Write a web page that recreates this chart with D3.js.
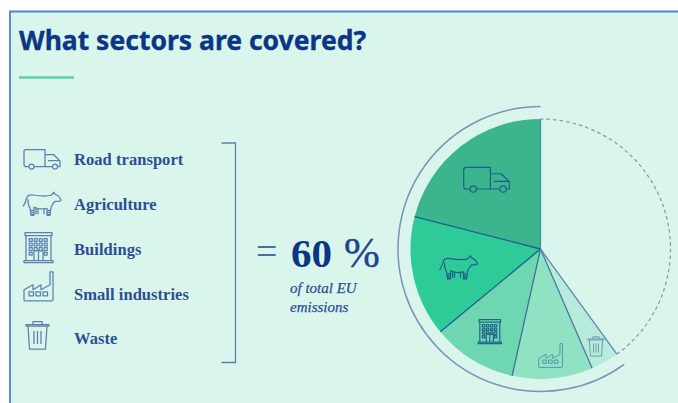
<!DOCTYPE html>
<html>
<head>
<meta charset="utf-8">
<script src="https://cdn.jsdelivr.net/npm/d3@7"></script>
<style>
  html, body { margin: 0; padding: 0; background: #fff; }
  svg { display: block; }
</style>
</head>
<body>
<svg id="chart" width="678" height="403"></svg>
<script>
// Sectors and their share of total EU emissions, in percent
const sectors = ["Road transport", "Agriculture", "Buildings", "Small industries", "Waste"];
const shares = [21, 15, 10.5, 10, 3.5];
const iconKeys = ["truck", "cow", "building", "factory", "bin"];
const sliceColors = ["#3ab58d", "#2ecb98", "#6ed6b1", "#8fe3c3", "#b7ebdc"];
const sliceIconColors = ["#1c5f8c", "#1c5f8c", "#23658c", "#5c96a6", "#6d9fae"];
const totalLabel = "60";
const subLabel = ["of total EU", "emissions"];

const INK = "#0b3585", TEXT = "#2d4f92", LINE = "#5d80ad", BG = "#d9f5ec";
const svg = d3.select("#chart");

// Panel: mint background with a blue rule along the top and left edges
svg.append("rect").attr("x", 9).attr("y", 11).attr("width", 669).attr("height", 392).attr("fill", BG);
svg.append("path").attr("d", "M10,403V11.5H678").attr("fill", "none").attr("stroke", "#4f84cc").attr("stroke-width", 1.8);

// Heading and accent rule
svg.append("text").attr("x", 19).attr("y", 50).text("What sectors are covered?")
  .attr("font-family", "'Noto Sans'").attr("font-weight", 700).attr("font-size", 26.5).attr("fill", INK)
  .attr("stroke", INK).attr("stroke-width", 0.35);
svg.append("line").attr("x1", 19).attr("x2", 74).attr("y1", 77.5).attr("y2", 77.5)
  .attr("stroke", "#5ad0a6").attr("stroke-width", 2.5);

// Outline icons, each drawn in its own local coordinates
const icons = {
  truck: { w: 36, h: 19, draw(g) {
    g.append("path").attr("d", "M5,17H2a2,2 0 0 1-2-2V2a2,2 0 0 1 2-2H21V17H10M21,5H29.5L36,11.5V17H33.5M28,17H21M24,11H36");
    g.append("circle").attr("cx", 7.5).attr("cy", 17).attr("r", 2.5);
    g.append("circle").attr("cx", 31).attr("cy", 17).attr("r", 2.5);
  }},
  cow: { w: 38, h: 23, draw(g) {
    g.append("path").attr("d", "M0,14C2,12 3,8 4,5C5,3 8,2 12,3C18,4 24,4 28,3L31,0L32,2C35,3 37,5 38,8C37,10 34,9 32,9C30,11 29,13 28,15L27,23H24L24,16C20,17 15,17 11,15L11,23H8L7,16C5,13 5,10 5,7");
    g.append("path").attr("d", "M8,18H11M8,20H11M8,22H11M24,18H27M24,20H27M24,22H27M13,15V22M15,16V22M21,16V22");
  }},
  building: { w: 29, h: 30, draw(g) {
    g.append("path").attr("d", "M1,0H28V3H1ZM2,3V28M27,3V28M0,28H29V30H0ZM10,28V18H19V28M14.5,18V28");
    d3.range(4).forEach(i => {
      d3.range(4).forEach(j => {
        if (j === 3 && (i === 1 || i === 2)) return;
        g.append("rect").attr("x", 5.2 + i * 5).attr("y", 6 + j * 4.6).attr("width", 3).attr("height", 2.8);
      });
    });
  }},
  factory: { w: 29, h: 29, draw(g) {
    g.append("path").attr("d", "M1,29H28a1,1 0 0 0 1-1V0H26V13L17,18V13L9,18V13L0,18V28a1,1 0 0 0 1,1Z");
    [5, 12, 19].forEach(x => g.append("rect").attr("x", x).attr("y", 20).attr("width", 4.5).attr("height", 4));
  }},
  bin: { w: 23, h: 28, draw(g) {
    g.append("path").attr("d", "M0,5V3.5H23V5ZM7,3.5V0.5H16V3.5M2,5L3.5,28H19.5L21,5M8,10V23M11.5,10V23M15,10V23");
  }}
};

function placeIcon(parent, key, cx, cy, scale, color, weight) {
  const icon = icons[key];
  const g = parent.append("g")
    .attr("transform", `translate(${cx - icon.w * scale / 2},${cy - icon.h * scale / 2}) scale(${scale})`)
    .attr("fill", "none").attr("stroke", color).attr("stroke-width", weight / scale)
    .attr("stroke-linejoin", "round");
  icon.draw(g);
}

// Sector list on the left
const rowY = d3.scalePoint().domain(sectors).range([159.8, 338.8]);
const legendIconX = [42, 42, 38.5, 38.5, 37.5];
const legendIconYOffset = [0, 0, -1, -7, -3];
const legend = svg.append("g");
sectors.forEach((name, i) => {
  legend.append("text").attr("x", 74).attr("y", rowY(name)).attr("dy", "0.34em").text(name)
    .attr("font-family", "'Liberation Serif'").attr("font-weight", 700).attr("font-size", 16.5)
    .attr("letter-spacing", 0.05).attr("fill", TEXT);
  placeIcon(legend, iconKeys[i], legendIconX[i], rowY(name) - 0.8 + legendIconYOffset[i], 1, LINE, 1.25);
});

// Bracket gathering the list into the total
svg.append("path").attr("d", "M221.5,143H235.5V362.5H221.5").attr("fill", "none").attr("stroke", LINE).attr("stroke-width", 1.3);

// Total figure
const serif = "'Liberation Serif'";
svg.append("text").attr("x", 256).attr("y", 264).text("=")
  .attr("font-family", serif).attr("font-size", 38).attr("fill", "#4a6fa5");
svg.append("text").attr("x", 291).attr("y", 267).text(totalLabel)
  .attr("font-family", serif).attr("font-weight", 700).attr("font-size", 41).attr("fill", INK);
svg.append("text").attr("x", 344).attr("y", 267).text("%")
  .attr("font-family", serif).attr("font-size", 43).attr("fill", "#1c4590")
  .attr("stroke", "#1c4590").attr("stroke-width", 0.4);
subLabel.forEach((line, i) => {
  svg.append("text").attr("x", 290).attr("y", 293 + i * 18.5).text(line)
    .attr("font-family", serif).attr("font-style", "italic").attr("font-size", 15).attr("fill", TEXT)
    .attr("stroke", TEXT).attr("stroke-width", 0.25);
});

// Pie: slices run anticlockwise from twelve o'clock; shares are percent of the full circle
const cx = 540.5, cy = 249, R = 130, outerR = 142.5;
const angle = d3.scaleLinear().domain([0, 100]).range([0, -2 * Math.PI]);
const total = d3.sum(shares);
const pie = d3.pie().sort(null).startAngle(0).endAngle(angle(total));
const slices = pie(shares);
const arc = d3.arc().innerRadius(0).outerRadius(R);
const plot = svg.append("g").attr("transform", `translate(${cx},${cy})`);

plot.selectAll("path.slice").data(slices).join("path")
  .attr("class", "slice").attr("d", arc).attr("fill", (d, i) => sliceColors[i]);

// Single-pass circular stroke between two pie angles (zero at twelve o'clock)
function strokeArc(radius, from, to) {
  const p = d3.path();
  p.arc(0, 0, radius, from - Math.PI / 2, to - Math.PI / 2, to < from);
  return p.toString();
}

// Dashed remainder of the circle
plot.append("path")
  .attr("d", strokeArc(R, angle(total), angle(100)))
  .attr("fill", "none").attr("stroke", "#7f9ab2").attr("stroke-width", 1.2).attr("stroke-dasharray", "3.6 3");

// Arc hugging the covered share
plot.append("path")
  .attr("d", strokeArc(outerR, 0, angle(total)))
  .attr("fill", "none").attr("stroke", "#7a93b8").attr("stroke-width", 1.5);

// Radial dividers between slices
const edges = [0, ...d3.cumsum(shares)];
const edgeColors = ["#4a8fa5", "#1c5f8c", "#1c5f8c", "#3f6f9c", "#4f76a4", "#6585ae"];
plot.selectAll("line.edge").data(edges).join("line")
  .attr("class", "edge")
  .attr("x2", d => d3.pointRadial(angle(d), R)[0])
  .attr("y2", d => d3.pointRadial(angle(d), R)[1])
  .attr("stroke", (d, i) => edgeColors[i]).attr("stroke-width", 1.3);

// Sector icons sit on each slice's centre line
const iconRadius = [88, 84, 97, 107, 112];
const sliceIconScale = [1.27, 1.0, 0.8, 0.82, 0.7];
slices.forEach((s, i) => {
  const mid = (s.startAngle + s.endAngle) / 2;
  const [x, y] = d3.pointRadial(mid, iconRadius[i]);
  placeIcon(plot, iconKeys[i], x, y, sliceIconScale[i], sliceIconColors[i], i < 3 ? 1.2 : 1);
});
</script>
</body>
</html>
